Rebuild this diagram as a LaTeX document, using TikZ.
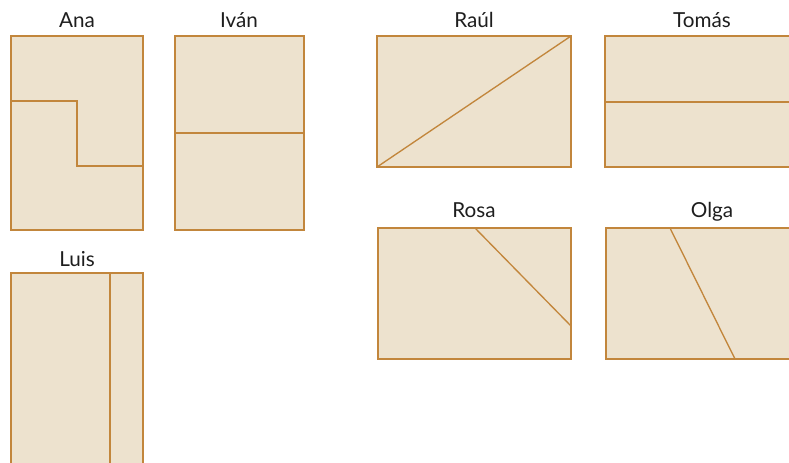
\documentclass[tikz,border=0pt]{standalone}
\usepackage{fontspec}
\setmainfont{Lato}
\usepackage{tikz}
\usetikzlibrary{positioning}
\definecolor{paper}{RGB}{237,226,206}
\definecolor{cut}{RGB}{194,134,60}
\definecolor{ink}{RGB}{30,30,30}
\tikzset{
  sheet/.style  = {draw=cut, fill=paper, line width=1pt},   % whole rectangle
  fold/.style   = {draw=cut, line width=1pt},               % dividing line
  who/.style    = {font=\fontsize{15.5}{18}\selectfont, text=ink,
                   inner sep=0pt, anchor=base}
}
\begin{document}
\begin{tikzpicture}[x=0.75pt,y=-0.75pt]
  \useasboundingbox (0,0) rectangle (789,462);
  \clip (0,0) rectangle (789,462);
  % left column
  \draw[sheet] (11,36) rectangle (143,230);
  \draw[fold] (11,101) -- (77,101) -- (77,166) -- (143,166);
  \draw[sheet] (175,36) rectangle (304,230);
  \draw[fold] (175,133) -- (304,133);
  \draw[sheet] (11,273) rectangle (143,480);
  \draw[fold] (110,273) -- (110,480);
  % right group
  \draw[sheet] (377,36) rectangle (571,167);
  \draw[fold] (377,167) -- (571,36);
  \draw[sheet] (605,36) rectangle (800,167);
  \draw[fold] (605,102) -- (800,102);
  \draw[sheet] (378,228) rectangle (571,359);
  \draw[fold] (475,228) -- (571,326);
  \draw[sheet] (606,228) rectangle (800,359);
  \draw[fold] (670,228) -- (735,359);
  % names
  \node[who] (ana)   at (77,27)  {Ana};
  \node[who] (ivan)  at (239,27) {Iván};
  \node[who] (luis)  at (77,266) {Luis};
  \node[who] (raul)  at (474,27) {Raúl};
  \node[who] (tomas) at (702,27) {Tomás};
  \node[who] (rosa)  at (474,217) {Rosa};
  \node[who] (olga)  at (712,217) {Olga};
\end{tikzpicture}
\end{document}
